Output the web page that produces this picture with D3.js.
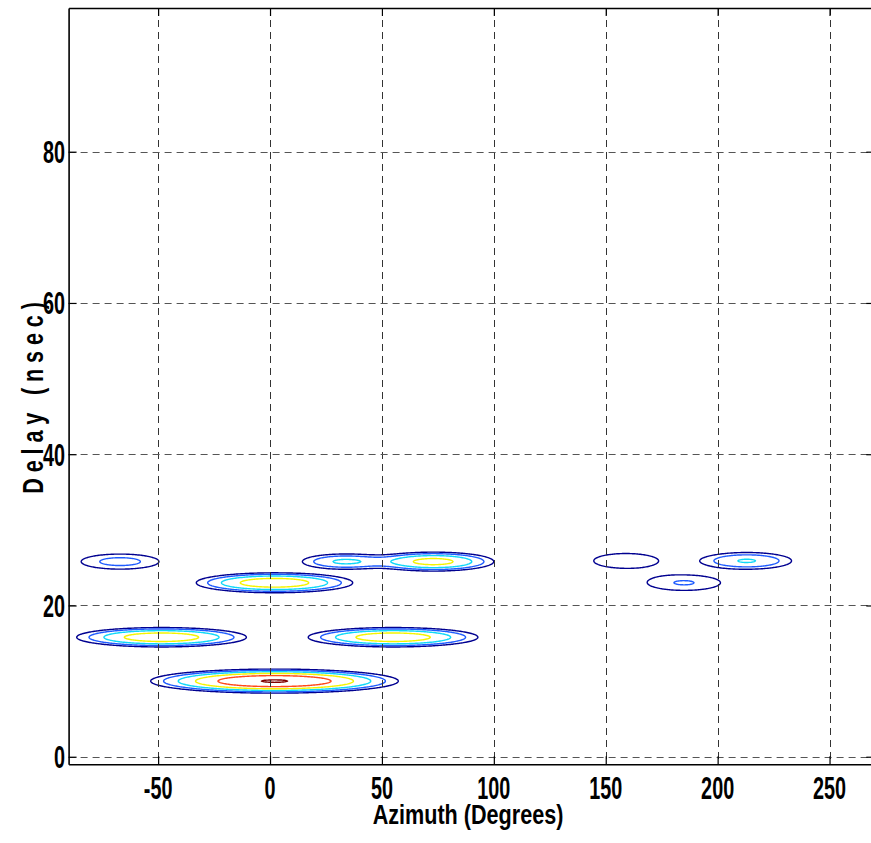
<!DOCTYPE html>
<html>
<head>
<meta charset="utf-8">
<script src="https://cdn.jsdelivr.net/npm/d3@7"></script>
<style>
  html, body { margin: 0; padding: 0; background: #fff; }
  svg { display: block; }
  .lbl { font-family: "Liberation Sans", Arial, Helvetica, sans-serif; font-weight: bold; fill: #000; }
</style>
</head>
<body>
<svg id="chart" width="871" height="843"></svg>
<script>
// Angle–delay power profile: each resolved path is a peak at (azimuth, delay)
// with a power and an angular / temporal spread.
const peakAzimuth = [2, -48.5, 55, 2, -67, 33.5, 73, 159, 185, 213];
const peakDelay   = [10, 15.8, 15.8, 23, 25.8, 25.8, 25.8, 25.9, 23, 25.9];
const peakPower   = [1.04, 0.41, 0.41, 0.41, 0.081, 0.14, 0.32, 0.05, 0.066, 0.132];
const spreadAz    = [20.9, 16.7, 16.7, 15.4, 12.6, 11, 12.5, 14.8, 13.3, 11.8];
const spreadDelay = [0.6, 0.565, 0.565, 0.58, 0.72, 0.58, 0.58, 1.0, 0.82, 0.65];

// Contour levels (relative power, 3 dB apart) and their colours
const contourLevels = [1/32, 1/16, 1/8, 1/4, 1/2, 1];
const levelColors   = ["#000090", "#1f5cff", "#10d8f8", "#f4f400", "#ff4a1a", "#800000"];

const xTicks = [-50, 0, 50, 100, 150, 200, 250];
const yTicks = [0, 20, 40, 60, 80];
const xDomain = [-90, 270];
const yDomain = [-1, 99];

const svg = d3.select("#chart");
const plotLeft = 68.6, plotRight = 874.3, plotTop = 8, plotBottom = 764.3;

const x = d3.scaleLinear().domain(xDomain).range([plotLeft, plotRight]);
const y = d3.scaleLinear().domain(yDomain).range([plotBottom, plotTop]);

// Sample the profile on a regular grid
const stepAz = 0.5, stepDelay = 0.1;
const nx = Math.round((xDomain[1] - xDomain[0]) / stepAz) + 1;
const ny = Math.round((yDomain[1] - yDomain[0]) / stepDelay) + 1;
const values = new Float64Array(nx * ny);
for (let j = 0; j < ny; j++) {
  const d = yDomain[0] + j * stepDelay;
  for (let i = 0; i < nx; i++) {
    const a = xDomain[0] + i * stepAz;
    let v = 0;
    for (let k = 0; k < peakAzimuth.length; k++) {
      const u = (a - peakAzimuth[k]) / spreadAz[k];
      const w = (d - peakDelay[k]) / spreadDelay[k];
      const e = 0.5 * (u * u + w * w);
      if (e < 30) v += peakPower[k] * Math.exp(-e);
    }
    values[j * nx + i] = v;
  }
}

const contours = d3.contours().size([nx, ny]).thresholds(contourLevels)(values);

const gridToScreen = d3.geoTransform({
  point: function (gx, gy) {
    this.stream.point(x(xDomain[0] + (gx - 0.5) * stepAz), y(yDomain[0] + (gy - 0.5) * stepDelay));
  }
});
const path = d3.geoPath(gridToScreen);

svg.append("defs").append("clipPath").attr("id", "plotClip")
  .append("rect").attr("x", plotLeft).attr("y", plotTop)
  .attr("width", plotRight - plotLeft).attr("height", plotBottom - plotTop);

const plot = svg.append("g").attr("clip-path", "url(#plotClip)");

plot.selectAll("path.contour")
  .data(contours)
  .join("path")
  .attr("class", "contour")
  .attr("d", path)
  .attr("fill", "none")
  .attr("stroke", d => levelColors[contourLevels.indexOf(d.value)])
  .attr("stroke-width", 1.4)
  .attr("stroke-linejoin", "round");

// Dashed grid
const grid = svg.append("g").attr("clip-path", "url(#plotClip)");
grid.selectAll("line.vgrid").data(xTicks).join("line")
  .attr("class", "vgrid")
  .attr("x1", d => Math.round(x(d)) + 0.5).attr("x2", d => Math.round(x(d)) + 0.5)
  .attr("y1", plotTop).attr("y2", plotBottom)
  .attr("stroke", "#333").attr("stroke-width", 1).attr("stroke-dasharray", "7,5");
grid.selectAll("line.hgrid").data(yTicks).join("line")
  .attr("class", "hgrid")
  .attr("y1", d => Math.round(y(d)) + 0.5).attr("y2", d => Math.round(y(d)) + 0.5)
  .attr("x1", plotLeft).attr("x2", plotRight)
  .attr("stroke", "#555").attr("stroke-width", 1).attr("stroke-dasharray", "7,5");

// Axes with inward ticks on all four sides
const tickLen = 8;
const axisBottom = d3.axisBottom(x).tickValues(xTicks).tickSizeInner(-tickLen).tickSizeOuter(0).tickFormat("");
const axisTop = d3.axisTop(x).tickValues(xTicks).tickSizeInner(-tickLen).tickSizeOuter(0).tickFormat("");
const axisLeft = d3.axisLeft(y).tickValues(yTicks).tickSizeInner(-tickLen).tickSizeOuter(0).tickFormat("");
const axisRight = d3.axisRight(y).tickValues(yTicks).tickSizeInner(-tickLen).tickSizeOuter(0).tickFormat("");

function styleAxis(g) {
  g.select(".domain").attr("stroke", "#000").attr("stroke-width", 1.6);
  g.selectAll(".tick line").attr("stroke", "#000").attr("stroke-width", 1.2);
}
svg.append("g").attr("transform", `translate(0,${plotBottom})`).call(axisBottom).call(styleAxis);
svg.append("g").attr("transform", `translate(0,${plotTop})`).call(axisTop).call(styleAxis);
svg.append("g").attr("transform", `translate(${plotLeft},0)`).call(axisLeft).call(styleAxis);
svg.append("g").attr("transform", `translate(${plotRight},0)`).call(axisRight).call(styleAxis);

// Tick labels: condensed bold digits
const tickFont = 22, tickSx = 0.9, tickSy = 1.45;
svg.append("g").selectAll("text").data(xTicks).join("text")
  .attr("class", "lbl")
  .attr("transform", d => `translate(${x(d)},799) scale(${tickSx},${tickSy})`)
  .attr("text-anchor", "middle")
  .attr("font-size", tickFont)
  .text(d => d);
svg.append("g").selectAll("text").data(yTicks).join("text")
  .attr("class", "lbl")
  .attr("transform", d => `translate(65,${y(d) + 11.5}) scale(${tickSx},${tickSy})`)
  .attr("text-anchor", "end")
  .attr("font-size", tickFont)
  .text(d => d);

// Axis titles
svg.append("text")
  .attr("class", "lbl")
  .attr("transform", `translate(468,824) scale(0.9,1.16)`)
  .attr("text-anchor", "middle")
  .attr("font-size", 24)
  .text("Azimuth (Degrees)");

svg.append("text")
  .attr("class", "lbl")
  .attr("transform", `translate(43,395) rotate(-90) scale(0.9,1.22)`)
  .attr("text-anchor", "middle")
  .attr("font-size", 24)
  .attr("letter-spacing", 6.5)
  .text("Delay (nsec)");
</script>
</body>
</html>
